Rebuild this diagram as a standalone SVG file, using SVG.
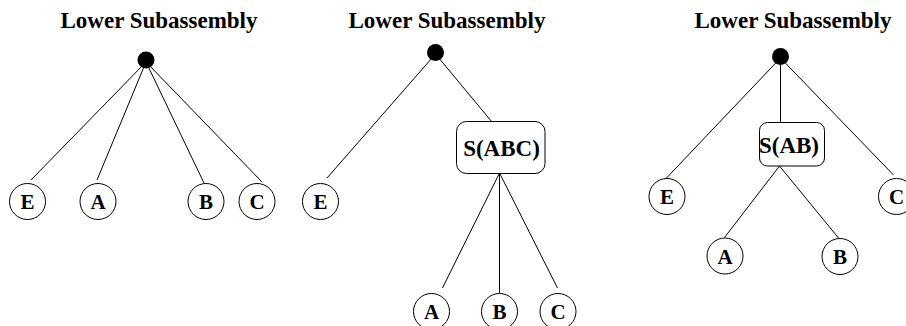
<svg xmlns="http://www.w3.org/2000/svg" width="906" height="326" viewBox="0 0 906 326">
<style>
.title{font-family:"Liberation Serif","Times New Roman",serif;font-weight:bold;font-size:23px;fill:#000;text-anchor:middle}
.lbl{font-family:"Liberation Serif","Times New Roman",serif;font-weight:bold;font-size:21px;fill:#000;text-anchor:middle}
.box{font-family:"Liberation Serif","Times New Roman",serif;font-weight:bold;font-size:23px;fill:#000;text-anchor:middle}
.leaf{fill:#fff;stroke:#000;stroke-width:1}
.sub{fill:#fff;stroke:#000;stroke-width:1}
.root{fill:#000}
.edge{stroke:#000;stroke-width:1;fill:none}
</style>
<rect width="906" height="326" fill="#fff"/>
<text class="title" x="159" y="28">Lower Subassembly</text>
<text class="title" x="447" y="28">Lower Subassembly</text>
<text class="title" x="793" y="28">Lower Subassembly</text>
<g id="connectors">
<line class="edge" x1="146" y1="62" x2="31" y2="180"/>
<line class="edge" x1="146" y1="62" x2="97" y2="180"/>
<line class="edge" x1="146" y1="62" x2="204" y2="183"/>
<line class="edge" x1="146" y1="62" x2="262" y2="182"/>
<line class="edge" x1="435.5" y1="54" x2="327" y2="178"/>
<line class="edge" x1="435.5" y1="54" x2="492" y2="122"/>
<line class="edge" x1="499.5" y1="173" x2="442.5" y2="288"/>
<line class="edge" x1="499.5" y1="173" x2="499.5" y2="293"/>
<line class="edge" x1="499.5" y1="173" x2="557.5" y2="288"/>
<line class="edge" x1="780.5" y1="58" x2="666" y2="178.5"/>
<line class="edge" x1="780.5" y1="58" x2="780.5" y2="122"/>
<line class="edge" x1="780.5" y1="58" x2="893.5" y2="175"/>
<line class="edge" x1="779.5" y1="166" x2="724.5" y2="237.5"/>
<line class="edge" x1="779.5" y1="166" x2="838.5" y2="238"/>
</g>
<g id="root1"><circle class="root" cx="146" cy="60" r="8.5"/></g>
<g id="root2"><circle class="root" cx="435.5" cy="52.5" r="8.5"/></g>
<g id="root3"><circle class="root" cx="780.5" cy="56.5" r="8.5"/></g>
<g id="p1E"><circle class="leaf" cx="27.5" cy="201.5" r="18"/><text class="lbl" x="27.5" y="209">E</text></g>
<g id="p1A"><circle class="leaf" cx="98" cy="201.5" r="18"/><text class="lbl" x="98" y="209">A</text></g>
<g id="p1B"><circle class="leaf" cx="206" cy="201.5" r="18"/><text class="lbl" x="206" y="209">B</text></g>
<g id="p1C"><circle class="leaf" cx="257" cy="201.5" r="18"/><text class="lbl" x="257" y="209">C</text></g>
<g id="p2E"><circle class="leaf" cx="320.5" cy="201.5" r="18"/><text class="lbl" x="320.5" y="209">E</text></g>
<g id="p2S"><rect class="sub" x="456.5" y="121.5" width="88.5" height="52" rx="10"/><text class="box" x="501.5" y="155.5">S(ABC)</text></g>
<g id="p2A"><circle class="leaf" cx="431.5" cy="311.5" r="18"/><text class="lbl" x="431.5" y="319">A</text></g>
<g id="p2B"><circle class="leaf" cx="499.5" cy="311.5" r="18"/><text class="lbl" x="499.5" y="319">B</text></g>
<g id="p2C"><circle class="leaf" cx="558" cy="311.5" r="18"/><text class="lbl" x="558" y="319">C</text></g>
<g id="p3E"><circle class="leaf" cx="667" cy="196.5" r="18"/><text class="lbl" x="667" y="204">E</text></g>
<g id="p3S"><rect class="sub" x="759.5" y="122.5" width="65" height="43.5" rx="8"/><text class="box" x="789" y="152.5">S(AB)</text></g>
<g id="p3C"><circle class="leaf" cx="896.5" cy="196.5" r="18"/><text class="lbl" x="896.5" y="204">C</text></g>
<g id="p3A"><circle class="leaf" cx="725" cy="256" r="18"/><text class="lbl" x="725" y="263.5">A</text></g>
<g id="p3B"><circle class="leaf" cx="840" cy="256.5" r="18"/><text class="lbl" x="840" y="264">B</text></g>
</svg>
